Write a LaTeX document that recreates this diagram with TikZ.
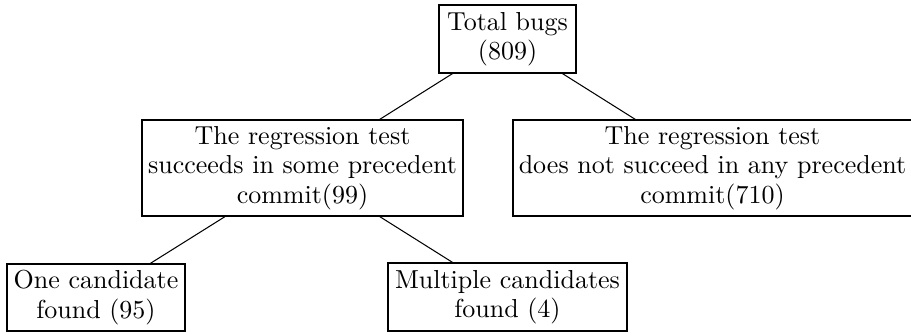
\documentclass[tikz,border=0pt]{standalone}
\begin{document}
\begin{tikzpicture}[x=0.3846pt,y=-0.3846pt,
  box/.style={draw, align=center, inner sep=0pt, font=\fontsize{10}{11.35}\selectfont}]
\useasboundingbox (0,0) rectangle (911,335);
\node[box, minimum width=137*0.3846pt, minimum height=68*0.3846pt] (total) at (507.5,39) {Total bugs\\(809)};
\node[box, minimum width=321*0.3846pt, minimum height=96*0.3846pt] (succ) at (302.5,168) {The regression test\\succeeds in some precedent\\commit(99)};
\node[box, minimum width=399*0.3846pt, minimum height=96*0.3846pt] (nosucc) at (712.5,168) {The regression test\\does not succeed in any precedent\\commit(710)};
\node[box, minimum width=178*0.3846pt, minimum height=67*0.3846pt] (one) at (96,297.5) {One candidate\\found (95)};
\node[box, minimum width=239*0.3846pt, minimum height=68*0.3846pt] (multi) at (507.5,297) {Multiple candidates\\found (4)};
\draw (total) -- (succ);
\draw (total) -- (nosucc);
\draw (succ) -- (one);
\draw (succ) -- (multi);
\end{tikzpicture}
\end{document}
